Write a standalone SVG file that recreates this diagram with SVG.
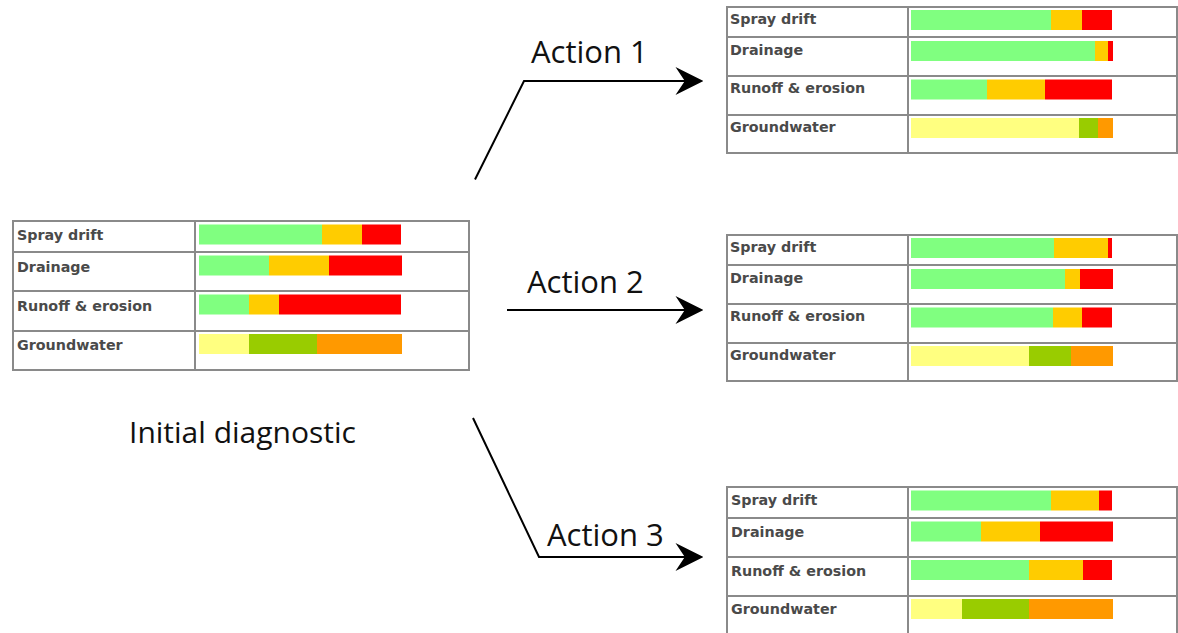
<svg xmlns="http://www.w3.org/2000/svg" width="1178" height="633" viewBox="0 0 1178 633">
<defs>
<style>
.frame{fill:#ffffff;stroke:#8a8a8a;stroke-width:2}
.sep{stroke:#8a8a8a;stroke-width:2}
.lbl{font-family:"DejaVu Sans",Verdana,sans-serif;font-weight:bold;font-size:14.3px;fill:#4a4a4a}
.big{font-family:"Open Sans","Liberation Sans",sans-serif;font-weight:normal;font-size:31px;fill:#111111}
.g{fill:#80ff80}.y{fill:#ffcc00}.r{fill:#ff0000}.py{fill:#ffff80}.o{fill:#99cc00}.or{fill:#ff9900}
.conn{fill:none;stroke:#000000;stroke-width:2}
</style>
<marker id="ah" markerUnits="userSpaceOnUse" markerWidth="28" markerHeight="28" viewBox="0 0 27 27" refX="14" refY="13.5" orient="auto">
<path d="M0,0 L27,13.5 L0,27 L9,13.5 Z" fill="#000000"/>
</marker>
</defs>
<rect width="1178" height="633" fill="#ffffff"/>

<g id="initial">
<rect class="frame" x="13" y="221" width="456" height="149"/>
<line class="sep" x1="195" y1="221" x2="195" y2="370"/>
<line class="sep" x1="13" y1="252" x2="469" y2="252"/>
<line class="sep" x1="13" y1="291" x2="469" y2="291"/>
<line class="sep" x1="13" y1="331" x2="469" y2="331"/>
<text class="lbl" x="17" y="240">Spray drift</text>
<text class="lbl" x="17" y="272">Drainage</text>
<text class="lbl" x="17" y="311">Runoff &amp; erosion</text>
<text class="lbl" x="17" y="350">Groundwater</text>
<rect class="g" x="199" y="224.5" width="123" height="20"/><rect class="y" x="322" y="224.5" width="40" height="20"/><rect class="r" x="362" y="224.5" width="39" height="20"/>
<rect class="g" x="199" y="255.5" width="70" height="20"/><rect class="y" x="269" y="255.5" width="60" height="20"/><rect class="r" x="329" y="255.5" width="73" height="20"/>
<rect class="g" x="199" y="294.5" width="50" height="20"/><rect class="y" x="249" y="294.5" width="30" height="20"/><rect class="r" x="279" y="294.5" width="122" height="20"/>
<rect class="py" x="199" y="334" width="50" height="20"/><rect class="o" x="249" y="334" width="68" height="20"/><rect class="or" x="317" y="334" width="85" height="20"/>
</g>
<text id="initial-label" class="big" x="129" y="443" style="font-size:30px">Initial diagnostic</text>

<g id="action1-result">
<rect class="frame" x="727" y="7" width="450" height="146"/>
<line class="sep" x1="908" y1="7" x2="908" y2="153"/>
<line class="sep" x1="727" y1="37" x2="1177" y2="37"/>
<line class="sep" x1="727" y1="76" x2="1177" y2="76"/>
<line class="sep" x1="727" y1="115" x2="1177" y2="115"/>
<text class="lbl" x="730" y="24">Spray drift</text>
<text class="lbl" x="730" y="55">Drainage</text>
<text class="lbl" x="730" y="93">Runoff &amp; erosion</text>
<text class="lbl" x="730" y="132">Groundwater</text>
<rect class="g" x="911" y="10" width="140" height="20"/><rect class="y" x="1051" y="10" width="31" height="20"/><rect class="r" x="1082" y="10" width="30" height="20"/>
<rect class="g" x="911" y="41" width="184" height="20"/><rect class="y" x="1095" y="41" width="13" height="20"/><rect class="r" x="1108" y="41" width="5" height="20"/>
<rect class="g" x="911" y="79.5" width="76" height="20"/><rect class="y" x="987" y="79.5" width="58" height="20"/><rect class="r" x="1045" y="79.5" width="67" height="20"/>
<rect class="py" x="911" y="118" width="168" height="20"/><rect class="o" x="1079" y="118" width="19" height="20"/><rect class="or" x="1098" y="118" width="15" height="20"/>
</g>

<g id="action2-result">
<rect class="frame" x="727" y="235" width="450" height="146"/>
<line class="sep" x1="908" y1="235" x2="908" y2="381"/>
<line class="sep" x1="727" y1="265" x2="1177" y2="265"/>
<line class="sep" x1="727" y1="304" x2="1177" y2="304"/>
<line class="sep" x1="727" y1="343" x2="1177" y2="343"/>
<text class="lbl" x="730" y="252">Spray drift</text>
<text class="lbl" x="730" y="283">Drainage</text>
<text class="lbl" x="730" y="321">Runoff &amp; erosion</text>
<text class="lbl" x="730" y="360">Groundwater</text>
<rect class="g" x="911" y="238" width="143" height="20"/><rect class="y" x="1054" y="238" width="54" height="20"/><rect class="r" x="1108" y="238" width="4" height="20"/>
<rect class="g" x="911" y="269" width="154" height="20"/><rect class="y" x="1065" y="269" width="15" height="20"/><rect class="r" x="1080" y="269" width="33" height="20"/>
<rect class="g" x="911" y="307.5" width="142" height="20"/><rect class="y" x="1053" y="307.5" width="29" height="20"/><rect class="r" x="1082" y="307.5" width="30" height="20"/>
<rect class="py" x="911" y="346" width="118" height="20"/><rect class="o" x="1029" y="346" width="42" height="20"/><rect class="or" x="1071" y="346" width="42" height="20"/>
</g>

<g id="action3-result">
<rect class="frame" x="727" y="487" width="450" height="152"/>
<line class="sep" x1="908" y1="487" x2="908" y2="639"/>
<line class="sep" x1="727" y1="518" x2="1177" y2="518"/>
<line class="sep" x1="727" y1="557" x2="1177" y2="557"/>
<line class="sep" x1="727" y1="596" x2="1177" y2="596"/>
<text class="lbl" x="731" y="505">Spray drift</text>
<text class="lbl" x="731" y="537">Drainage</text>
<text class="lbl" x="731" y="576">Runoff &amp; erosion</text>
<text class="lbl" x="731" y="614">Groundwater</text>
<rect class="g" x="911" y="490.5" width="140" height="20"/><rect class="y" x="1051" y="490.5" width="48" height="20"/><rect class="r" x="1099" y="490.5" width="13" height="20"/>
<rect class="g" x="911" y="521.5" width="70" height="20"/><rect class="y" x="981" y="521.5" width="59" height="20"/><rect class="r" x="1040" y="521.5" width="73" height="20"/>
<rect class="g" x="911" y="560" width="118" height="20"/><rect class="y" x="1029" y="560" width="54" height="20"/><rect class="r" x="1083" y="560" width="29" height="20"/>
<rect class="py" x="911" y="599" width="51" height="20"/><rect class="o" x="962" y="599" width="67" height="20"/><rect class="or" x="1029" y="599" width="84" height="20"/>
</g>

<g id="connectors">
<polyline class="conn" points="475,179.5 524,81 690,81" marker-end="url(#ah)"/>
<line class="conn" x1="507" y1="310" x2="690" y2="310" marker-end="url(#ah)"/>
<polyline class="conn" points="473,418 539,557 690,557" marker-end="url(#ah)"/>
<text class="big" x="531" y="63">Action 1</text>
<text class="big" x="527" y="293">Action 2</text>
<text class="big" x="547" y="546">Action 3</text>
</g>
</svg>
